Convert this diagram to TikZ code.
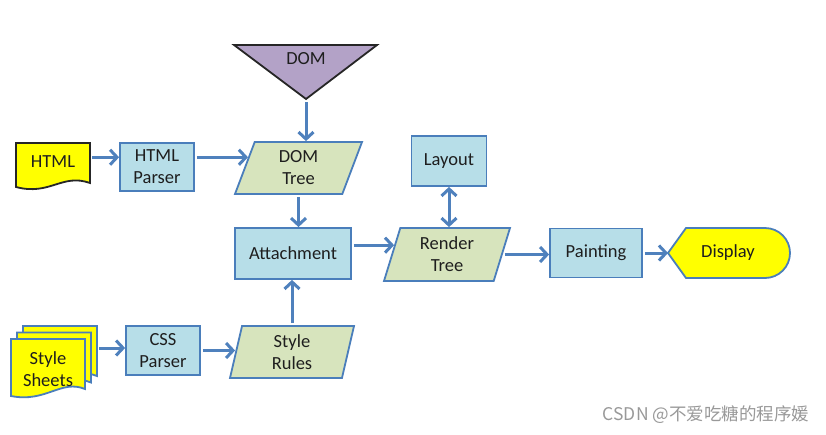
\documentclass[tikz,border=0pt]{standalone}
\usepackage{fontspec}
\setmainfont{Carlito}
\newfontfamily\cjkfont{Noto Sans CJK SC}
\usetikzlibrary{shapes.geometric,arrows.meta,calc}
\definecolor{boxfill}{HTML}{B7DEE8}
\definecolor{boxline}{HTML}{4A7EBB}
\definecolor{parafill}{HTML}{D7E4BD}
\definecolor{arrowcol}{HTML}{4F81BD}
\definecolor{domfill}{HTML}{B3A2C7}
\definecolor{docyellow}{HTML}{FFFF00}
\definecolor{txt}{HTML}{1E1E1E}
\definecolor{wmgray}{HTML}{999999}
\begin{document}
\begin{tikzpicture}[x=1pt,y=-1pt,
  lbl/.style={font=\fontsize{18.5}{22}\selectfont, text=txt, align=center},
  procbox/.style={lbl, draw=boxline, fill=boxfill, line width=1.8pt, inner sep=0pt},
  databox/.style={lbl, trapezium, draw=boxline, fill=parafill, line width=1.8pt, inner sep=0pt, trapezium stretches body},
  docshape/.style={fill=docyellow, line width=1.8pt},
  arr/.style={draw=arrowcol, line width=3pt, shorten <=2pt, -{Straight Barb[length=7pt,width=15pt]}},
  dblarr/.style={draw=arrowcol, line width=3pt, {Straight Barb[length=7pt,width=15pt]}-{Straight Barb[length=7pt,width=15pt]}},
]
\useasboundingbox (0,0) rectangle (826,434);
\fill[white] (0,0) rectangle (826,434);

% DOM triangle
\draw[fill=domfill, draw=black!85, line width=1.8pt, line join=miter] (234,45) -- (377,45) -- (306,99) -- cycle;
\coordinate (domtip) at (306,100);
\node[lbl] (dom) at (306,59) {DOM};

% HTML document
\draw[docshape, draw=black!85] (16,143) -- (90,143) -- (90,183) .. controls (62,173) and (50,196) .. (16,187) -- cycle;
\node[lbl, minimum width=74pt, minimum height=40pt, inner sep=0pt] (html) at (53,162) {HTML};

% Style sheets (stacked documents)
\foreach \dx/\dy in {12/-13, 6/-6.5, 0/0}{
  \begin{scope}[shift={(11+\dx,339+\dy)}]
    \draw[docshape, draw=boxline] (0,0) -- (74,0) -- (74,50) .. controls (50,40) and (35,64) .. (0,57) -- cycle;
  \end{scope}
}
\node[lbl] (ss) at (48,369.5) {Style\\Sheets};
\coordinate (ssout) at (97,348);

% process boxes
\node[procbox, minimum width=74pt, minimum height=48pt] (hp) at (157,167) {HTML\\Parser};
\node[procbox, minimum width=116pt, minimum height=51pt] (att) at (293,253.5) {Attachment};
\node[procbox, minimum width=74pt, minimum height=49pt] (css) at (163,350.5) {CSS\\Parser};
\node[procbox, minimum width=75pt, minimum height=50pt] (lay) at (449,161) {Layout};
\node[procbox, minimum width=92pt, minimum height=49pt] (pnt) at (596,253) {Painting};

% data parallelograms
\node[databox, trapezium left angle=60, trapezium right angle=120, minimum width=127pt, minimum height=52pt] (dt) at (298.5,168) {DOM\\Tree};
\node[databox, trapezium left angle=65, trapezium right angle=115, minimum width=126pt, minimum height=53pt] (rt) at (447,254.5) {Render\\Tree};
\node[databox, trapezium left angle=71, trapezium right angle=109, minimum width=124pt, minimum height=52pt] (sr) at (292,352) {Style\\Rules};

% Display
\draw[fill=docyellow, draw=boxline, line width=1.8pt] (668,253) -- (686,228) -- (765,228) arc[start angle=-90, end angle=90, radius=25] -- (686,278) -- cycle;
\coordinate (disptip) at (668,253);
\node[lbl] (disp) at (728,253) {Display};

% connectors
\draw[arr] (domtip) -- (domtip |- dt.north);
\draw[arr] (html.east |- dt.168) -- (hp.west |- dt.168);
\draw[arr] (hp.east |- dt.168) -- (dt.168);
\draw[arr] (dt.south) -- (dt.south |- att.north);
\draw[arr] (sr.north) -- (sr.north |- att.south);
\draw[arr] (ssout) -- (ssout -| css.west);
\draw[arr] (css.east) -- (css.east -| sr.west);
\draw[arr] (att.east |- rt.170) -- (rt.170);
\draw[dblarr] (lay.south) -- (lay.south |- rt.north);
\draw[arr] (rt.east) -- (rt.east -| pnt.west);
\draw[arr] (pnt.east) -- (disptip);

% watermark
\node[font=\cjkfont\fontsize{17.5}{20}\selectfont, text=wmgray] (wm) at (706,415) {CSDN @不爱吃糖的程序媛};
\end{tikzpicture}
\end{document}
